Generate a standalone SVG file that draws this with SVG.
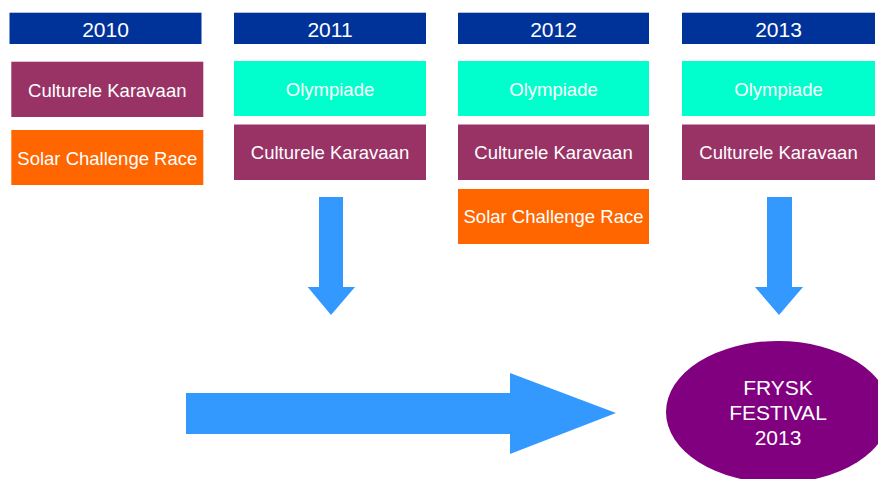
<svg xmlns="http://www.w3.org/2000/svg" width="878" height="479" viewBox="0 0 878 479">
<style>
text{font-family:"Liberation Sans",Arial,sans-serif;fill:#fff;text-anchor:middle}
.hd{fill:#003399}
.ck{fill:#993366}
.ol{fill:#00FFCC}
.sc{fill:#FF6600}
.hdt{font-size:21px}
.bt{font-size:18.5px}
.ft{font-size:21px}
.arr{fill:#3399FF}
</style>
<g id="h2010"><rect class="hd" x="9.5" y="12.7" width="192" height="31.3"/><text class="hdt" x="105.5" y="37">2010</text></g>
<g id="h2011"><rect class="hd" x="234" y="12.7" width="192" height="31.3"/><text class="hdt" x="330" y="37">2011</text></g>
<g id="h2012"><rect class="hd" x="458" y="12.7" width="191" height="31.3"/><text class="hdt" x="553.5" y="37">2012</text></g>
<g id="h2013"><rect class="hd" x="682" y="12.7" width="193" height="31.3"/><text class="hdt" x="778.5" y="37">2013</text></g>
<g id="ck2010"><rect class="ck" x="11.3" y="61.7" width="192" height="55.3"/><text class="bt" x="107.3" y="96.5">Culturele Karavaan</text></g>
<g id="sc2010"><rect class="sc" x="11.3" y="130" width="192" height="55"/><text class="bt" x="107.3" y="164.5">Solar Challenge Race</text></g>
<g id="ol2011"><rect class="ol" x="234" y="61" width="192" height="55"/><text class="bt" x="330" y="96">Olympiade</text></g>
<g id="ck2011"><rect class="ck" x="234" y="124.5" width="192" height="55.5"/><text class="bt" x="330" y="159">Culturele Karavaan</text></g>
<g id="ol2012"><rect class="ol" x="458" y="61" width="191" height="55"/><text class="bt" x="553.5" y="96">Olympiade</text></g>
<g id="ck2012"><rect class="ck" x="458" y="124.5" width="191" height="55.5"/><text class="bt" x="553.5" y="159">Culturele Karavaan</text></g>
<g id="sc2012"><rect class="sc" x="458" y="189" width="191" height="55"/><text class="bt" x="553.5" y="223">Solar Challenge Race</text></g>
<g id="ol2013"><rect class="ol" x="682" y="61" width="193" height="55"/><text class="bt" x="778.5" y="96">Olympiade</text></g>
<g id="ck2013"><rect class="ck" x="682" y="124.5" width="193" height="55.5"/><text class="bt" x="778.5" y="159">Culturele Karavaan</text></g>
<g id="festival"><ellipse cx="778" cy="412" rx="112" ry="71" fill="#800080"/>
<text class="ft" x="778" y="395">FRYSK</text>
<text class="ft" x="778" y="420">FESTIVAL</text>
<text class="ft" x="778" y="445">2013</text></g>
<g id="connectors">
<polygon class="arr" points="319,197 343,197 343,287 355,287 331,315 307.7,287 319,287"/>
<polygon class="arr" points="767,197 792,197 792,287 803,287 779,315 755,287 767,287"/>
<polygon class="arr" points="186,393 510,393 510,373 616,413 510,454 510,434 186,434"/>
</g>
</svg>
